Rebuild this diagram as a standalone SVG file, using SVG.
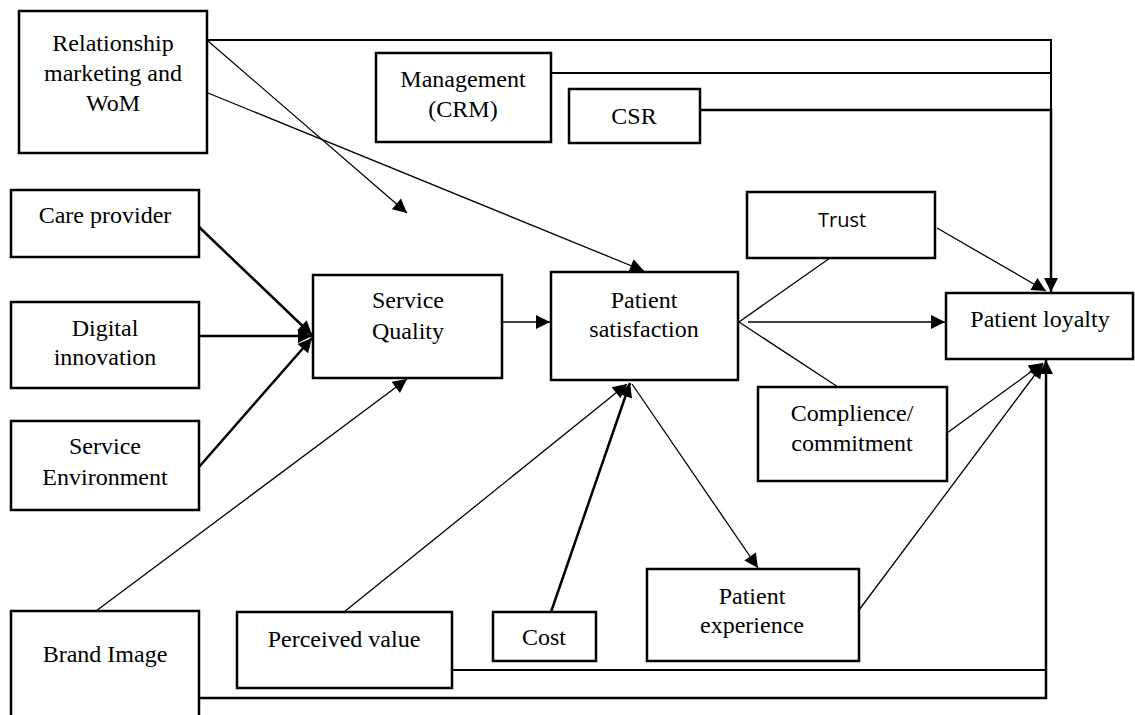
<svg xmlns="http://www.w3.org/2000/svg" width="1135" height="715" viewBox="0 0 1135 715">
<style>
.box{fill:#fff;stroke:#000;stroke-width:2.5}
.t{font-family:"Liberation Serif","Times New Roman",serif;font-size:24px;fill:#000;text-anchor:middle}
.ts{font-family:"Open Sans","Liberation Sans",sans-serif;font-size:20px;fill:#000;text-anchor:middle}
.c{fill:none;stroke:#000;stroke-width:1.3}
.ck{fill:none;stroke:#000;stroke-width:2.5}
.cm{fill:none;stroke:#000;stroke-width:2}
</style>
<defs>
<marker id="ah" viewBox="0 0 10 10" refX="10" refY="5" markerWidth="16" markerHeight="14" markerUnits="userSpaceOnUse" orient="auto">
<path d="M0,0 L10,5 L0,10 z" fill="#000"/>
</marker>
</defs>
<rect width="1135" height="715" fill="#fff"/>
<g id="connectors">
<polyline class="cm" points="208,40 1051,40 1051,110"/>
<polyline class="cm" points="551,73 1051,73"/>
<polyline class="ck" points="700,110 1051,110 1051,292" marker-end="url(#ah)"/>
<line class="c" x1="208" y1="41" x2="407" y2="213" marker-end="url(#ah)"/>
<line class="c" x1="208" y1="93" x2="644" y2="271" marker-end="url(#ah)"/>
<line class="ck" x1="199" y1="227" x2="312" y2="335" marker-end="url(#ah)"/>
<line class="ck" x1="199" y1="336" x2="312" y2="336" marker-end="url(#ah)"/>
<line class="ck" x1="199" y1="467" x2="312" y2="338" marker-end="url(#ah)"/>
<line class="c" x1="502" y1="322" x2="550" y2="322" marker-end="url(#ah)"/>
<line class="c" x1="96" y1="611" x2="407" y2="379" marker-end="url(#ah)"/>
<line class="c" x1="344" y1="612" x2="627" y2="384" marker-end="url(#ah)"/>
<line class="ck" x1="551" y1="612" x2="630" y2="383" marker-end="url(#ah)"/>
<line class="c" x1="632" y1="384" x2="758" y2="568" marker-end="url(#ah)"/>
<polyline class="c" points="830,258 739,322 838,387"/>
<line class="c" x1="748" y1="322" x2="945" y2="322" marker-end="url(#ah)"/>
<line class="c" x1="937" y1="228" x2="1046" y2="291" marker-end="url(#ah)"/>
<line class="c" x1="947" y1="433" x2="1043" y2="363" marker-end="url(#ah)"/>
<line class="c" x1="859" y1="610" x2="1043" y2="364" marker-end="url(#ah)"/>
<polyline class="cm" points="452,670 1046,670"/>
<polyline class="ck" points="199,698 1046,698 1046,360" marker-end="url(#ah)"/>
</g>
<g id="relationship">
<rect class="box" x="19" y="11" width="188" height="142"/>
<text class="t" x="113" y="51">Relationship</text>
<text class="t" x="113" y="81">marketing and</text>
<text class="t" x="113" y="111">WoM</text>
</g>
<g id="management">
<rect class="box" x="376" y="53" width="175" height="89"/>
<text class="t" x="463" y="87">Management</text>
<text class="t" x="463" y="117">(CRM)</text>
</g>
<g id="csr">
<rect class="box" x="569" y="89" width="131" height="54"/>
<text class="t" x="634" y="124">CSR</text>
</g>
<g id="care-provider">
<rect class="box" x="11" y="190" width="188" height="67"/>
<text class="t" x="105" y="223">Care provider</text>
</g>
<g id="digital-innovation">
<rect class="box" x="11" y="302" width="188" height="86"/>
<text class="t" x="105" y="336">Digital</text>
<text class="t" x="105" y="365">innovation</text>
</g>
<g id="service-environment">
<rect class="box" x="11" y="421" width="188" height="89"/>
<text class="t" x="105" y="454">Service</text>
<text class="t" x="105" y="485">Environment</text>
</g>
<g id="service-quality">
<rect class="box" x="313" y="275" width="189" height="103"/>
<text class="t" x="408" y="308">Service</text>
<text class="t" x="408" y="339">Quality</text>
</g>
<g id="patient-satisfaction">
<rect class="box" x="551" y="272" width="187" height="108"/>
<text class="t" x="644" y="308">Patient</text>
<text class="t" x="644" y="337">satisfaction</text>
</g>
<g id="trust">
<rect class="box" x="747" y="192" width="188" height="66"/>
<text class="ts" x="842" y="227">Trust</text>
</g>
<g id="patient-loyalty">
<rect class="box" x="946" y="293" width="187" height="66"/>
<text class="t" x="1040" y="327">Patient loyalty</text>
</g>
<g id="compliance">
<rect class="box" x="758" y="387" width="189" height="94"/>
<text class="t" x="852" y="421">Complience/</text>
<text class="t" x="852" y="451">commitment</text>
</g>
<g id="brand-image">
<rect class="box" x="11" y="611" width="188" height="120"/>
<text class="t" x="105" y="662">Brand Image</text>
</g>
<g id="perceived-value">
<rect class="box" x="237" y="612" width="215" height="76"/>
<text class="t" x="344" y="647">Perceived value</text>
</g>
<g id="cost">
<rect class="box" x="493" y="612" width="103" height="49"/>
<text class="t" x="544" y="645">Cost</text>
</g>
<g id="patient-experience">
<rect class="box" x="647" y="569" width="212" height="92"/>
<text class="t" x="752" y="604">Patient</text>
<text class="t" x="752" y="633">experience</text>
</g>
</svg>
